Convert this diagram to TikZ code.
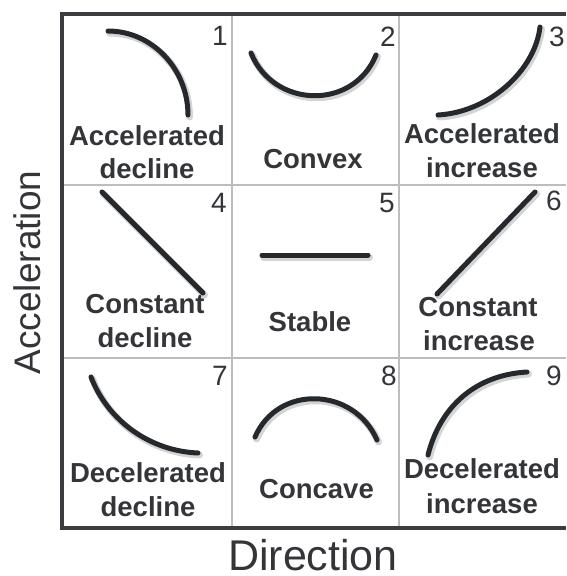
\documentclass[tikz,border=0pt]{standalone}
\usepackage{fontspec}
\setmainfont{Liberation Sans}
\definecolor{ink}{HTML}{25292D}
\definecolor{txt}{HTML}{333538}
\definecolor{frame}{HTML}{3A3C3F}
\definecolor{gridc}{HTML}{BDBDBD}
\definecolor{shadowc}{HTML}{D4D4D4}
\tikzset{
  curve/.style={draw=ink, line width=5pt, line cap=round},
  shade/.style={draw=shadowc, line width=7pt, line cap=round, shift={(1.5,2)}},
  lbl/.style={text=txt, font=\fontsize{27.5}{33}\selectfont\bfseries, anchor=base, inner sep=0pt},
  num/.style={text=txt, font=\fontsize{28}{33}\selectfont, anchor=base east, inner sep=0pt},
  axis/.style={text=txt, anchor=base, inner sep=0pt}
}
\begin{document}
\begin{tikzpicture}[x=1pt, y=-1pt]
\useasboundingbox (0,0) rectangle (566,576);
% grid
\draw[gridc, line width=1.5pt] (232,14) -- (232,528) (399,14) -- (399,528)
  (62,185) -- (566,185) (62,358) -- (566,358);
\draw[frame, line width=4pt] (566,14) -- (62,14) -- (62,528) -- (566,528);
% shadows
\begin{scope}
\path[shade] (108,31) .. controls (152,31) and (188,69) .. (188,115);
\path[shade] (251,53) .. controls (273.5,108.6) and (353.5,110.6) .. (376,55);
\path[shade] (438,115) .. controls (490,112) and (535,70) .. (540,27);
\path[shade] (102,192) -- (203,293);
\path[shade] (262,255) -- (368,255);
\path[shade] (437,294) -- (535,192);
\path[shade] (91,377) .. controls (108,421) and (150,451) .. (198,453);
\path[shade] (255,437) .. controls (278,384) and (354,387) .. (377,440);
\path[shade] (428,455) .. controls (440,407) and (475,375) .. (527,372);
\end{scope}
% curves
\path[curve] (108,31) .. controls (152,31) and (188,69) .. (188,115);
\path[curve] (251,53) .. controls (273.5,108.6) and (353.5,110.6) .. (376,55);
\path[curve] (438,115) .. controls (490,112) and (535,70) .. (540,27);
\path[curve] (102,192) -- (203,293);
\path[curve] (262,255) -- (368,255);
\path[curve] (437,294) -- (535,192);
\path[curve] (91,377) .. controls (108,421) and (150,451) .. (198,453);
\path[curve] (255,437) .. controls (278,384) and (354,387) .. (377,440);
\path[curve] (428,455) .. controls (440,407) and (475,375) .. (527,372);
% numbers
\node[num] (n1) at (228,45) {1};
\node[num] (n2) at (396,46) {2};
\node[num] (n3) at (565,46) {3};
\node[num] (n4) at (227,212) {4};
\node[num] (n5) at (395,212) {5};
\node[num] (n6) at (562,210) {6};
\node[num] (n7) at (228,385) {7};
\node[num] (n8) at (397,385) {8};
\node[num] (n9) at (562,385) {9};
% labels
\node[lbl] (l1a) at (147,145) {Accelerated};
\node[lbl] (l1b) at (147,178) {decline};
\node[lbl] (l2) at (313,168) {Convex};
\node[lbl] (l3a) at (482,143) {Accelerated};
\node[lbl] (l3b) at (482,177) {increase};
\node[lbl] (l4a) at (145,313) {Constant};
\node[lbl] (l4b) at (145,347) {decline};
\node[lbl] (l5) at (310,331) {Stable};
\node[lbl] (l6a) at (478,316) {Constant};
\node[lbl] (l6b) at (479,350) {increase};
\node[lbl] (l7a) at (148,482) {Decelerated};
\node[lbl] (l7b) at (148,516) {decline};
\node[lbl] (l8) at (316.5,498) {Concave};
\node[lbl] (l9a) at (482,478) {Decelerated};
\node[lbl] (l9b) at (482,513) {increase};
% axes
\node[axis, font=\fontsize{43}{50}\selectfont] (dir) at (313,570) {Direction};
\node[axis, font=\fontsize{37}{44}\selectfont, rotate=90] (acc) at (40,272.5) {Acceleration};
\end{tikzpicture}
\end{document}
